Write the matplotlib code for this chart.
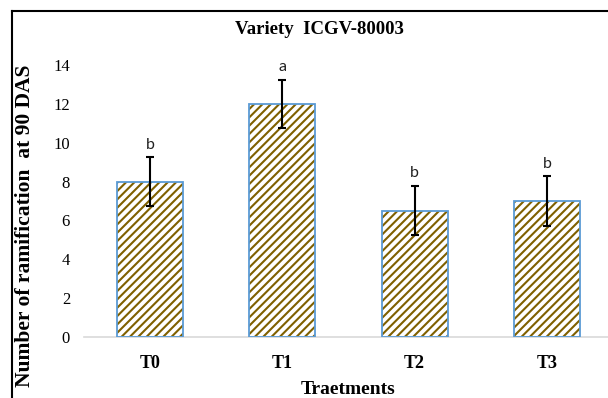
import numpy as np
import matplotlib
matplotlib.use("Agg")
import matplotlib.pyplot as plt
from matplotlib.lines import Line2D

treatments = ["T0", "T1", "T2", "T3"]
ramification = [8.0, 12.0, 6.5, 7.0]
errors = [1.25, 1.25, 1.27, 1.27]
letters = ["b", "a", "b", "b"]
yticks = [0, 2, 4, 6, 8, 10, 12, 14]

SERIF = ["Liberation Serif", "DejaVu Serif"]
plt.rcParams["hatch.linewidth"] = 1.5

fig = plt.figure(figsize=(6.08, 3.98), dpi=100)
ax = fig.add_axes([84/608, 1-337/398, 529/608, 272/398])

x = np.arange(len(treatments))
# hatch in brown, outline in blue -> two passes
ax.bar(x, ramification, width=0.5, color="white", edgecolor="#7F6000", hatch="////", lw=0, zorder=2)
ax.bar(x, ramification, width=0.5, fill=False, edgecolor="#5B9BD5", lw=1.3, zorder=3)
ax.errorbar(x, ramification, yerr=errors, fmt="none", ecolor="black", elinewidth=1.5,
            capsize=3, capthick=1.5, zorder=4)
for xi, v, e, l in zip(x, ramification, errors, letters):
    ax.annotate(l, (xi, v + e), xytext=(0, 4), textcoords="offset points", ha="center",
                va="bottom", fontsize=11.5, family=["Lato", "DejaVu Sans"], color="#222222")

ax.set_xlim(-0.5, 3.5)
ax.set_ylim(0, 14)
ax.set_yticks(yticks)
ax.set_xticks(x)
ax.set_xticklabels(treatments, fontweight="bold")
ax.tick_params(axis="y", length=0, pad=10, labelsize=12, labelfontfamily="Liberation Serif")
ax.tick_params(axis="x", length=0, pad=13, labelsize=13, labelfontfamily="Liberation Serif")
for s in ["top", "right", "left"]:
    ax.spines[s].set_visible(False)
ax.spines["bottom"].set_color("#D9D9D9")
ax.spines["bottom"].set_linewidth(1.2)

fig.text(348/608, 1-390/398, "Traetments", ha="center", va="center",
         family=SERIF, fontsize=14, fontweight="bold")
fig.text(25/608, 1-226/398, "Number of ramification  at 90 DAS", rotation=90, ha="center",
         va="center", family=SERIF, fontsize=15.5, fontweight="bold")
fig.text(319/608, 1-30/398, "Variety  ICGV-80003", ha="center", va="center",
         family=SERIF, fontsize=13.5, fontweight="bold")

# chart frame (cropped at right and bottom)
fig.add_artist(Line2D([12/608, 12/608], [-0.1, 1-11/398], color="black", lw=1.5))
fig.add_artist(Line2D([12/608, 1.1], [1-11/398, 1-11/398], color="black", lw=1.5))

fig.savefig("out.png", dpi=100)
